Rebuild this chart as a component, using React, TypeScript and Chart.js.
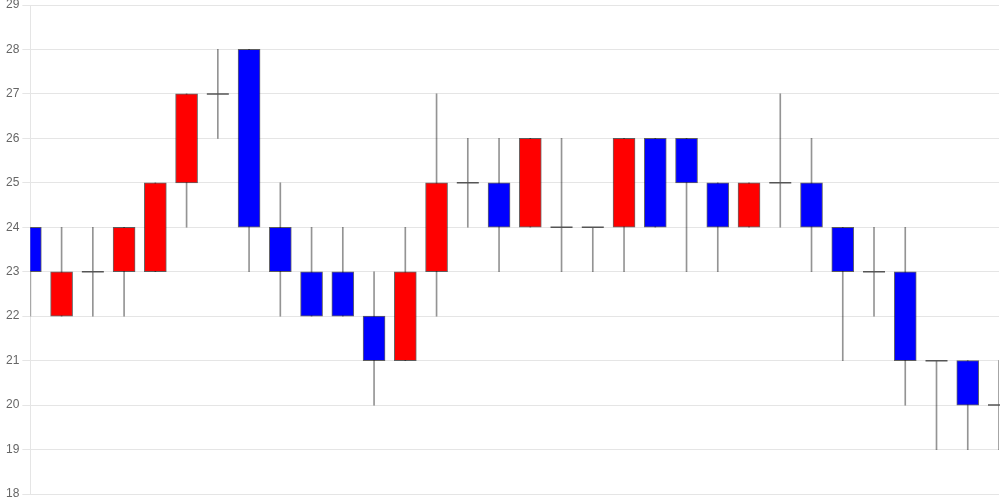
import React, { useEffect, useRef } from "react";
import { Chart, registerables } from "chart.js";

Chart.register(...registerables);

const labels = Array.from({ length: 32 }, (_, i) => String(i + 1));
const opens = [24, 22, 23, 23, 23, 25, 27, 28, 24, 23, 23, 22, 21, 23, 25, 25, 24, 24, 24, 24, 26, 26, 25, 24, 25, 25, 24, 23, 23, 21, 21, 20];
const highs = [24, 24, 24, 24, 25, 27, 28, 28, 25, 24, 24, 23, 24, 27, 26, 26, 26, 26, 24, 26, 26, 26, 25, 25, 27, 26, 24, 24, 24, 21, 21, 21];
const lows = [22, 22, 22, 22, 23, 24, 26, 23, 22, 22, 22, 20, 21, 22, 24, 23, 24, 23, 23, 23, 24, 23, 23, 24, 24, 23, 21, 22, 20, 19, 19, 19];
const closes = [23, 23, 23, 24, 25, 27, 27, 24, 23, 22, 22, 21, 23, 25, 25, 24, 26, 24, 24, 26, 24, 25, 24, 25, 25, 24, 23, 23, 21, 21, 20, 20];
const yTicks = [18, 19, 20, 21, 22, 23, 24, 25, 26, 27, 28, 29];

const UP = "#ff0000";
const DOWN = "#0000ff";

export default function App() {
  const ref = useRef<HTMLCanvasElement | null>(null);
  useEffect(() => {
    if (!ref.current) return;
    const bodies = opens.map((o, i) => (o === closes[i] ? null : [o, closes[i]]));
    const dojis = opens.map((o, i) => (o === closes[i] ? o : null));
    const wicks = lows.map((l, i) => [l, highs[i]]);
    const colors = opens.map((o, i) => (closes[i] > o ? UP : DOWN));
    const chart = new Chart(ref.current, {
      type: "bar",
      data: {
        labels,
        datasets: [
          {
            type: "line",
            data: dojis as any,
            showLine: false,
            pointStyle: "line",
            pointRadius: 11,
            pointHoverRadius: 11,
            borderColor: "#555",
            borderWidth: 1.5,
            order: 0,
          } as any,
          {
            type: "bar",
            data: bodies as any,
            backgroundColor: colors,
            borderColor: "rgba(0,0,0,0.6)",
            borderWidth: 1,
            borderSkipped: false,
            barThickness: 22,
            grouped: false,
            order: 1,
          } as any,
          {
            type: "bar",
            data: wicks as any,
            backgroundColor: "rgba(0,0,0,0.42)",
            borderWidth: 0,
            barThickness: 1,
            grouped: false,
            order: 2,
          } as any,
        ],
      },
      options: {
        animation: false,
        responsive: true,
        maintainAspectRatio: false,
        layout: { autoPadding: false, padding: { top: 5, bottom: 6, left: 3, right: 1 } },
        plugins: { legend: { display: false }, tooltip: { enabled: false } },
        scales: {
          x: { type: "category", offset: false, display: false, grid: { display: false } },
          y: {
            min: 18,
            max: 29,
            afterBuildTicks: (s: any) => {
              s.ticks = yTicks.map((v) => ({ value: v }));
            },
            afterFit: (s: any) => {
              s.paddingTop = 0;
              s.paddingBottom = 0;
            },
            ticks: { color: "#666", font: { family: "Arial, 'Liberation Sans', sans-serif", size: 12 } },
            grid: { color: "rgba(0,0,0,0.1)" },
            border: { color: "rgba(0,0,0,0.1)" },
          },
        },
      },
    } as any);
    return () => chart.destroy();
  }, []);
  return (
    <div style={{ position: "absolute", left: 0, top: 0, width: 1000, height: 500 }}>
      <canvas ref={ref} />
    </div>
  );
}
